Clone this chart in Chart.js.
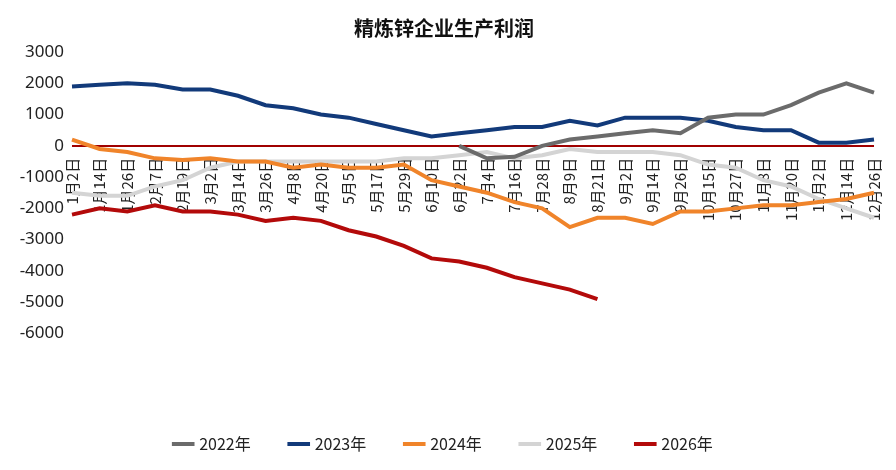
<!DOCTYPE html>
<html><head><meta charset="utf-8">
<script src="https://cdn.jsdelivr.net/npm/chart.js@4/dist/chart.umd.min.js"></script>
<style>html,body{margin:0;background:#fff}#wrap{width:896px;height:470px}</style>
</head><body><div id="wrap"><canvas id="c"></canvas></div>
<script>
const dates = ['1月2日','1月14日','1月26日','2月7日','2月19日','3月2日','3月14日','3月26日','4月8日','4月20日','5月5日','5月17日','5月29日','6月10日','6月22日','7月4日','7月16日','7月28日','8月9日','8月21日','9月2日','9月14日','9月26日','10月15日','10月27日','11月8日','11月20日','12月2日','12月14日','12月26日'];
const y2022 = [null,null,null,null,null,null,null,null,null,null,null,null,null,null,0,-400,-350,0,200,300,400,500,400,900,1000,1000,1300,1700,2000,1700];
const y2023 = [1900,1950,2000,1950,1800,1800,1600,1300,1200,1000,900,700,500,300,400,500,600,600,800,650,900,900,900,800,600,500,500,100,100,200];
const y2024 = [200,-100,-200,-400,-450,-400,-500,-500,-700,-600,-700,-700,-600,-1100,-1300,-1500,-1800,-2000,-2600,-2300,-2300,-2500,-2100,-2100,-2000,-1900,-1900,-1800,-1700,-1500];
const y2025 = [-1500,-1600,-1600,-1300,-1100,-700,-500,-500,-500,-500,-500,-500,-400,-400,-300,-200,-400,-300,-100,-200,-200,-200,-300,-600,-700,-1100,-1300,-1700,-2000,-2300];
const y2026 = [-2200,-2000,-2100,-1900,-2100,-2100,-2200,-2400,-2300,-2400,-2700,-2900,-3200,-3600,-3700,-3900,-4200,-4400,-4600,-4900];
const yTicks = [3000,2000,1000,0,-1000,-2000,-3000,-4000,-5000,-6000];

const mk = (label, data, color) => ({ label, data, borderColor: color, backgroundColor: color,
  borderWidth: 4, pointRadius: 0, tension: 0, spanGaps: false });

new Chart(document.getElementById('c'), {
  type: 'line',
  data: { labels: dates, datasets: [
    mk('2022年', y2022, '#6b6b6b'),
    mk('2023年', y2023, '#123a7a'),
    mk('2024年', y2024, '#f0842a'),
    mk('2025年', y2025, '#d4d4d4'),
    mk('2026年', y2026, '#b30a0a')
  ]},
  options: {
    responsive: true, maintainAspectRatio: false, animation: false,
    layout: { padding: { left: 10, right: 18, bottom: 8 } },
    plugins: {
      title: { display: true, text: '精炼锌企业生产利润', color: '#111',
        font: { size: 20, weight: 'bold', family: 'Noto Sans CJK SC' }, padding: { top: 16, bottom: 12 } },
      legend: { position: 'bottom', labels: { usePointStyle: true, pointStyle: 'line', boxWidth: 50,
        padding: 40, color: '#222', font: { size: 16, family: 'Noto Sans CJK SC' } } },
      tooltip: { enabled: false }
    },
    scales: {
      x: { position: { y: 0 }, offset: false, grid: { display: false }, border: { display: false },
        ticks: { autoSkip: false, maxRotation: 90, minRotation: 90, color: '#222',
          font: { size: 15, family: 'Noto Sans CJK SC' }, padding: 4 } },
      y: { min: -8000, max: 3000, afterBuildTicks: s => { s.ticks = yTicks.map(v => ({ value: v })); },
        border: { display: false },
        grid: { drawTicks: false, color: c => c.tick && c.tick.value === 0 ? '#a00000' : 'transparent', lineWidth: 2 },
        ticks: { color: '#222', font: { size: 17, family: 'Noto Sans' }, padding: 8, callback: v => String(v) },
        afterFit: s => { s.width = 62; } }
    }
  }
});
</script></body></html>
